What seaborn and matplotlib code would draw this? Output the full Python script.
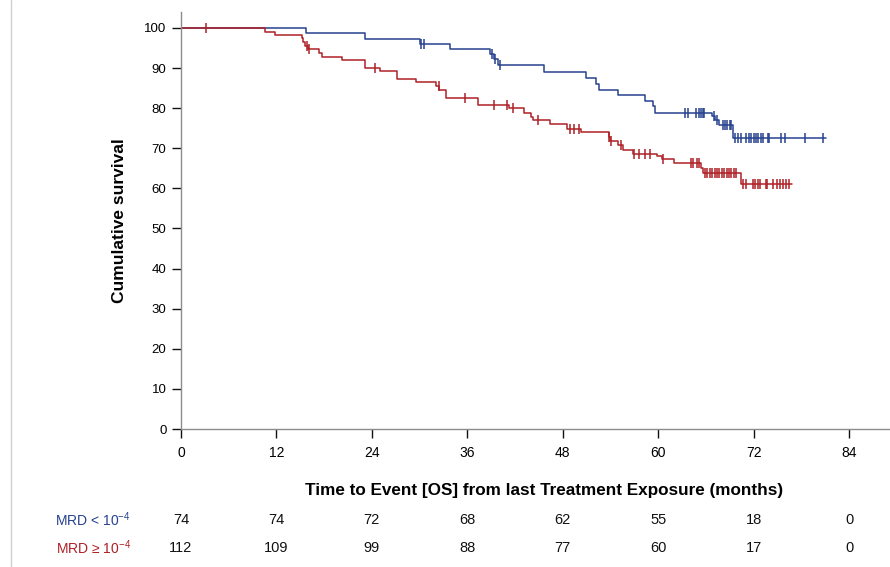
import numpy as np
import pandas as pd
import matplotlib
matplotlib.use("Agg")
import matplotlib.pyplot as plt
import seaborn as sns
from matplotlib import font_manager
from matplotlib.lines import Line2D
import matplotlib.transforms as mtransforms

# Kaplan-Meier steps: (time in months, survival % after the step)
blue_step_t = [0, 15.7, 23.1, 30.0, 33.8, 38.8, 39.3, 39.8, 45.7, 50.9, 52.2, 52.5,
               55.0, 58.3, 59.4, 59.6, 66.8, 67.2, 67.7, 69.4, 81.1]
blue_step_s = [100, 98.65, 97.3, 96.0, 94.7, 93.6, 92.2, 90.8, 89.0, 87.6, 86.0, 84.5,
               83.3, 81.9, 80.5, 78.9, 78.0, 77.1, 75.8, 72.5, 72.5]
blue_censor_t = [30.2, 30.6, 39.1, 39.5, 40.1,
                 63.4, 63.7, 64.7, 65.2, 65.4, 65.6, 65.8, 67.0, 67.4,
                 68.2, 68.4, 68.7, 69.0, 69.2,
                 69.7, 70.1, 70.4, 71.1, 71.4, 71.7, 72.0, 72.3, 72.6, 72.9, 73.2,
                 73.8, 74.0, 75.5, 76.0, 78.5, 80.7]

red_step_t = [0, 10.5, 11.8, 15.2, 15.4, 15.6, 15.95, 17.3, 17.7, 20.3, 23.2, 25.0, 27.1,
              29.6, 32.1, 32.5, 33.3, 37.4, 41.2, 43.1, 44.0, 44.3, 46.4, 48.5, 50.3,
              53.8, 54.0, 55.0, 55.6, 56.9, 59.8, 60.5, 62.0, 65.4, 65.6, 70.4, 76.8]
red_step_s = [100, 99.1, 98.2, 97.4, 96.4, 95.6, 94.8, 93.8, 92.7, 91.9, 90.1, 89.3, 87.4,
              86.5, 85.5, 84.5, 82.6, 80.8, 80.0, 78.9, 77.7, 77.0, 76.0, 74.8, 74.1,
              72.9, 71.8, 70.7, 69.7, 68.7, 68.1, 67.3, 66.4, 65.0, 63.8, 61.0, 61.0]
red_censor_t = [3.1, 15.9, 16.1, 24.4, 32.4, 35.7, 39.3, 41.0, 41.8, 44.9,
                48.9, 49.4, 50.1, 53.85, 54.1, 55.3, 57.0, 57.6, 58.4, 59.0, 60.55,
                64.1, 64.4, 64.9, 65.2,
                65.9, 66.2, 66.5, 66.8, 67.1, 67.4, 67.7, 68.0, 68.3, 68.6, 68.9, 69.2,
                69.5, 69.8,
                70.7, 71.0, 71.9, 72.2, 72.6, 72.8, 73.5, 73.7, 74.5, 74.9, 75.3, 75.7,
                76.1, 76.5]

groups = ["MRD < 10$^{-4}$", "MRD \u2265 10$^{-4}$"]
risk_times = [0, 12, 24, 36, 48, 60, 72, 84]
blue_at_risk = [74, 74, 72, 68, 62, 55, 18, 0]
red_at_risk = [112, 109, 99, 88, 77, 60, 17, 0]

BLUE = "#27418F"
RED = "#AE2026"

sns.set_style("white")
names = {f.name for f in font_manager.fontManager.ttflist}
narrow = "Liberation Sans Narrow" if "Liberation Sans Narrow" in names else "Liberation Sans"
plt.rcParams["font.family"] = ["Liberation Sans", "DejaVu Sans"]
plt.rcParams["mathtext.fontset"] = "custom"
plt.rcParams["mathtext.rm"] = "Liberation Sans"
plt.rcParams["mathtext.default"] = "regular"
plt.rcParams["text.color"] = "black"
plt.rcParams["axes.labelcolor"] = "black"
plt.rcParams["xtick.color"] = "black"
plt.rcParams["ytick.color"] = "black"


def censor_levels(step_t, step_s, cens_t):
    idx = np.searchsorted(step_t, cens_t, side="right") - 1
    return np.asarray(step_s)[idx]


steps = pd.concat([
    pd.DataFrame({"time": blue_step_t, "surv": blue_step_s, "group": groups[0]}),
    pd.DataFrame({"time": red_step_t, "surv": red_step_s, "group": groups[1]}),
])
cens = pd.concat([
    pd.DataFrame({"time": blue_censor_t,
                  "surv": censor_levels(blue_step_t, blue_step_s, blue_censor_t),
                  "group": groups[0]}),
    pd.DataFrame({"time": red_censor_t,
                  "surv": censor_levels(red_step_t, red_step_s, red_censor_t),
                  "group": groups[1]}),
])
palette = {groups[0]: BLUE, groups[1]: RED}

fig = plt.figure(figsize=(8.9, 5.67), dpi=100)
ax = fig.add_axes([181 / 890, 1 - 429 / 567, 1 - 181 / 890, (429 - 12) / 567])

sns.lineplot(data=steps, x="time", y="surv", hue="group", palette=palette,
             drawstyle="steps-post", estimator=None, sort=False, legend=False,
             linewidth=1.1, ax=ax)
for g in groups:
    sub = cens[cens["group"] == g]
    ax.plot(sub["time"], sub["surv"], linestyle="none", marker="|",
            markersize=7, markeredgewidth=1.1, color=palette[g])

ax.set_xlim(0, (890 - 181) / (668 / 84))
ax.set_ylim(0, 100 + (28 - 12) / 4.01)
ax.set_xticks(risk_times)
ax.set_yticks(range(0, 101, 10))
ax.tick_params(axis="both", direction="out", length=6.5, width=1, color="#111111",
               bottom=True, left=True)
ax.tick_params(axis="y", labelsize=9.5, pad=4)
ax.tick_params(axis="x", labelsize=10, pad=6)
for lab in ax.get_xticklabels():
    lab.set_family(narrow)
for side in ["top", "right"]:
    ax.spines[side].set_visible(False)
for side in ["left", "bottom"]:
    ax.spines[side].set_color("#8c8c8c")
    ax.spines[side].set_linewidth(1)

ax.set_xlabel("Time to Event [OS] from last Treatment Exposure (months)",
              fontsize=12.3, fontweight="bold", family=narrow)
ax.xaxis.set_label_coords((544 - 181) / 709, -(491 - 429) / 417)
ax.xaxis.label.set_va("center")
ax.set_ylabel("Cumulative survival", fontsize=12.5, fontweight="bold", labelpad=12)

# numbers at risk
trans = mtransforms.blended_transform_factory(ax.transData, fig.transFigure)
rows = [(groups[0], blue_at_risk, BLUE, 1 - 520 / 567),
        (groups[1], red_at_risk, RED, 1 - 548 / 567)]
for name, counts, col, yy in rows:
    fig.text(131 / 890, yy, name, color=col, ha="right", va="center",
             fontsize=10, family=narrow)
    for t, n in zip(risk_times, counts):
        ax.text(t, yy, str(n), transform=trans, ha="center", va="center",
                fontsize=10.5, family=narrow, color="#111111", clip_on=False)

fig.add_artist(Line2D([11 / 890, 11 / 890], [0, 1], color="#d0d0d0", linewidth=1))

fig.savefig("out.png", dpi=100)
